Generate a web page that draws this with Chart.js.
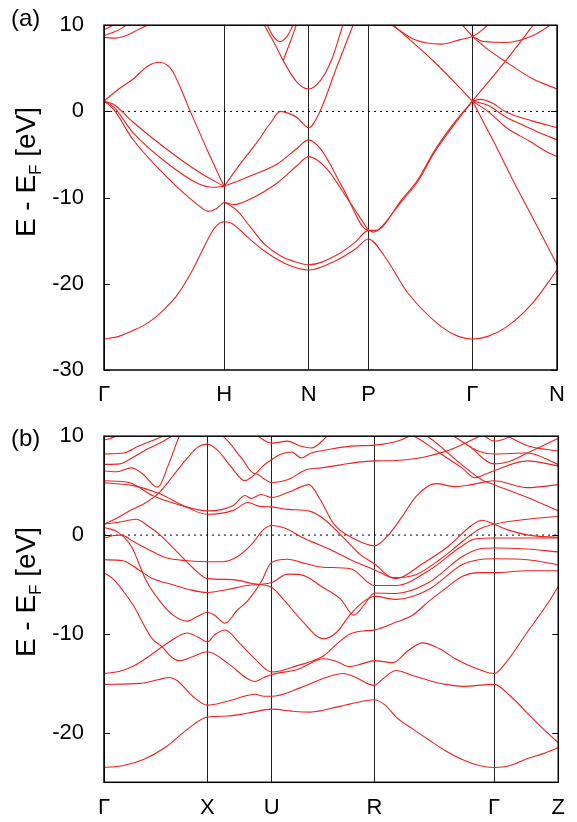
<!DOCTYPE html>
<html>
<head>
<meta charset="utf-8">
<script src="https://cdn.jsdelivr.net/npm/chart.js@4.4.1/dist/chart.umd.min.js"></script>
<style>
  html, body { margin: 0; padding: 0; background: #fff; }
  #wrap { position: relative; width: 577px; height: 822px; font-family: 'Liberation Sans', Arial, sans-serif; color: #000; }
  canvas { position: absolute; left: 0; }
  .panel-label { position: absolute; font-size: 24px; line-height: 1; }
  .axis-title { position: absolute; font-size: 28px; white-space: nowrap; line-height: 1; transform: translate(-50%, -50%) rotate(-90deg); }
  .axis-title sub { font-size: 17px; vertical-align: -6px; }
</style>
</head>
<body>
<div id="wrap">
  <canvas id="chart-a" width="577" height="411" style="top:0"></canvas>
  <canvas id="chart-b" width="577" height="411" style="top:411px"></canvas>
  <div class="panel-label" style="left:11px;top:6px">(a)</div>
  <div class="panel-label" style="left:11px;top:426px">(b)</div>
  <div class="axis-title" style="left:28px;top:172px">E - E<sub>F</sub> [eV]</div>
  <div class="axis-title" style="left:28px;top:592px">E - E<sub>F</sub> [eV]</div>
</div>
<script>
// path coordinate k runs along the plotted path, energies in eV relative to E_F
const kTicksA = [0, 122, 208, 268.7, 374.3, 460.3];
const kLabelsA = ['Γ', 'H', 'N', 'P', 'Γ', 'N'];
const eTicksA = [10, 0, -10, -20, -30];

const kTicksB = [0, 104.7, 170, 274, 395.3, 460.3];
const kLabelsB = ['Γ', 'X', 'U', 'R', 'Γ', 'Z'];
const eTicksB = [10, 0, -10, -20];

// panel (a) bands, [k, E]
const aLow = [[0,-26.4],[15,-26.1],[30,-25.4],[45,-24.5],[60,-23.1],[75,-21.2],[90,-18.4],[100,-16.1],[108,-14.3],[115,-13.2],[122,-12.8],[130,-13.0],[145,-14.5],[163,-16.2],[185,-17.7],[208,-18.4],[236,-17.3],[255,-16.0],[268.7,-14.8],[285,-16.8],[309,-21.1],[343,-25.0],[360,-26.1],[374.3,-26.4],[390,-26.1],[409,-25.0],[435,-22.3],[460.3,-18.4]];
const aSecond = [[122,-10.5],[128,-10.9],[136,-11.6],[150,-13.6],[163,-15.4],[180,-16.8],[196,-17.5],[208,-17.8],[236,-16.7],[255,-15.2],[268.7,-13.8],[274,-14.0],[280,-13.6],[302.7,-10.4],[319,-8.1],[336,-4.7],[356,-1.5],[374.3,1.2]];
const aG1 = [[0,1.2],[10,0.8],[29,-1.2],[62.7,-4.3],[96,-7.0],[122,-8.7]];
const aG2 = [[0,1.2],[10,0.5],[29,-2.4],[63,-5.9],[96,-8.4],[110,-8.8],[122,-8.7]];
const aG3 = [[0,1.2],[10,0.2],[29,-3.2],[63,-7.5],[96,-10.9],[106,-11.6],[114,-11.3],[122,-10.5]];
const aHump = [[0,1.2],[15,2.6],[29,3.7],[45,5.3],[56,5.7],[64,5.4],[70,4.6],[87.7,0],[105,-4.5],[122,-8.7]];
const aB1 = [[122,-8.7],[139,-6.0],[156,-3.5],[170,-1.2],[179,0],[187,-0.2],[196,-0.7],[208,-1.9],[219,-0.1],[236,5.0],[253,10],[257,11.2]];
const aB2 = [[122,-8.7],[146,-7.6],[176,-6.1],[196,-4.3],[208,-3.3],[221,-4.5],[242.7,-8.9],[268.7,-13.8],[276,-13.8],[302.7,-10.2],[319,-7.9],[336,-4.5],[356,-1.3],[374.3,1.2]];
const aB3 = [[122,-10.5],[132,-10.8],[146,-10.3],[176,-8.3],[196,-6.3],[208,-5.25],[226,-6.6],[246,-9.9],[268.7,-13.8]];
const aTop1 = [[0,8.6],[11,8.5],[20,8.7],[35,9.5],[49,10.3]];
const aTop2 = [[0,8.8],[14,9.4],[26,10.2]];
const aTop3 = [[0,9.5],[6,9.8],[13,10.3]];
const aN1 = [[162,10.2],[175,7.5],[182,5.9],[196,3.4],[208,2.6],[220,3.6],[232,6.2],[242.7,10],[246,11]];
const aN2 = [[182,5.9],[189,8.0],[196,10.2]];
const aN3 = [[165,10.2],[172,8.7],[179,8.1],[186,8.7],[193,10.2]];
const aP1 = [[294,10],[336,5.7],[374.3,1.2]];
const aP2 = [[292.7,10],[316,8.3],[342.7,7.8],[361,8.3],[374.3,8.7],[386,9.6],[391,10.2]];
const aP3 = [[362.7,10.2],[374.3,8.7]];
const aR1 = [[374.3,8.7],[386,8.1],[409,8.0],[436,8.8],[456,10.2]];
const aR2 = [[374.3,8.7],[390,7.2],[407.7,5.8],[436,3.75],[460.3,2.6]];
const aR3 = [[374.3,1.2],[407.7,5.8],[436,10]];
const aR4 = [[374.3,1.2],[382.7,1.4],[394,1.0],[409,-0.1],[435,-1.1],[460.3,-1.9]];
const aR5 = [[374.3,1.2],[390,0.7],[409,-0.7],[426,-1.6],[445,-2.6],[460.3,-3.3]];
const aR6 = [[374.3,1.2],[390,0.0],[409,-1.9],[433,-3.5],[447,-4.5],[460.3,-5.25]];
const aR7 = [[374.3,1.2],[395,-3.3],[416,-8.1],[439,-13.1],[460.3,-17.8]];

// panel (b) bands, [k, E]
const b1 = [[0,-23.5],[20,-23.3],[40,-22.7],[63,-21.4],[85,-19.6],[104.7,-18.4],[125,-18.3],[146,-18.0],[170,-17.6],[190,-17.8],[209,-17.9],[240,-17.3],[274,-16.65],[285,-17.2],[296,-18.4],[312.7,-19.6],[329,-20.7],[346,-21.8],[363,-22.7],[380,-23.3],[395.3,-23.5],[412,-23.3],[429,-22.6],[445,-22.1],[460.3,-21.5]];
const b2 = [[0,-15.1],[36,-15.0],[56,-14.6],[66,-14.4],[74,-14.7],[90,-16.3],[104.7,-17.2],[125,-16.8],[146,-16.2],[152.7,-16.1],[162,-16.3],[170,-16.3],[200,-15.4],[225,-14.4],[242.7,-14.0],[255,-14.4],[274,-15.2],[283,-14.5],[296,-13.7],[312.7,-14.2],[329,-14.7],[346,-15.1],[363,-15.3],[395.3,-15.1],[412,-16.3],[429,-18.0],[445,-19.6],[460.3,-21.0]];
const b3 = [[0,-14.0],[15,-13.8],[29,-13.3],[45,-12.3],[59,-11.3],[74,-10.3],[84.3,-9.9],[95,-10.3],[104.7,-10.8],[112,-10.1],[122.7,-9.6],[137,-10.9],[152.7,-12.5],[170,-13.85],[196,-13.2],[222.7,-12.2],[236,-11.0],[249.3,-10.0],[262,-9.7],[274,-9.6],[296,-8.8],[312.7,-8.1],[329,-6.7],[346,-5.4],[362.7,-4.2],[380,-3.8],[395.3,-3.8],[429,-3.6],[460.3,-3.6]];
const b4 = [[0,-3.8],[10,-4.5],[19,-5.6],[29,-7.0],[49,-10.5],[59,-11.3],[68,-12.3],[76,-12.7],[90,-12.3],[104.7,-11.8],[126,-13.0],[145,-14.5],[152.7,-14.8],[162,-14.4],[170,-14.1],[196,-13.6],[222.7,-12.5],[236,-12.8],[249,-13.3],[262,-13.0],[274,-12.7],[292.7,-12.9],[308,-11.7],[322.7,-10.9],[340,-11.5],[356,-12.5],[380,-13.6],[395.3,-14.0],[408,-12.8],[429,-9.8],[449,-7.0],[460.3,-5.2]];
const b5 = [[0,0.77],[14,0.3],[28,-1.2],[42.7,-4.6],[56,-6.6],[70,-8.1],[84.3,-8.7],[95,-8.2],[104.7,-7.8],[112,-8.1],[122.7,-8.9],[135,-7.6],[146,-6.6],[160,-4.6],[166,-3.3],[170,-2.75],[186,-2.45],[205,-2.9],[222,-3.25],[250,-3.4],[274,-5.1],[296,-5.1],[329,-3.6],[362.7,-1.1],[376,-0.4],[395.3,-0.3],[430,-0.3],[460.3,-0.3]];
const b6 = [[0,-2.5],[19,-2.6],[35,-3.5],[49,-4.4],[69,-5.0],[86,-5.5],[104.7,-5.8],[125,-5.5],[145,-5.1],[170,-4.8],[186,-3.95],[199,-4.0],[222,-5.3],[240,-6.5],[253,-8.1],[264,-7.0],[274,-5.85],[296,-5.9],[329,-4.8],[362.7,-2.2],[380,-1.4],[395.3,-1.3],[429,-1.4],[460.3,-1.7]];
const b7 = [[0,1.1],[15,1.3],[32.7,1.6],[45,0.9],[56,0.1],[76,-1.9],[90,-3.3],[104.7,-4.4],[130,-4.5],[150,-4.9],[170,-5.3],[182.7,-6.6],[200,-8.6],[222.7,-10.5],[236,-9.8],[249,-8.1],[262,-6.8],[274,-6.2],[296,-6.5],[329,-5.5],[362.7,-3.0],[380,-2.5],[395.3,-2.4],[429,-2.5],[460.3,-3.0]];
const b8 = [[0,-0.3],[10,-0.05],[17.7,0.0],[29,-0.6],[46,-1.5],[62.7,-2.3],[85,-2.6],[104.7,-2.7],[120,-2.7],[135,-2.2],[150,-0.9],[162,0.6],[170,0.97],[186,0.6],[200,-0.2],[230,-1.5],[252,-2.6],[274,-3.5],[296,-4.4],[322.7,-2.9],[349.3,-1.1],[372.7,1.0],[383,1.5],[395.3,1.1],[410,0.5],[430,0.0],[460.3,-0.25]];
const b9 = [[0,1.1],[13,1.7],[26,2.45],[41,3.2],[56,4.3],[70,6.0],[82,7.5],[95,8.9],[104.7,9.2],[115,8.6],[128,7.0],[142.7,5.5],[150,5.9],[154,6.2],[162,5.7],[170,5.3],[186,5.6],[205,6.6],[220,6.8],[240,7.1],[260,7.4],[274,7.5],[296,7.55],[316,7.75],[329,8.0],[350,8.6],[370,9.5],[385,10.2]];
const b10 = [[0,5.5],[26,5.3],[49,4.0],[75,3.1],[104.7,2.45],[131,3.0],[143,4.0],[149,3.7],[159,4.1],[170,3.8],[186,4.3],[203,5.0],[207.7,5.1],[219,3.6],[233,1.1],[256,-0.5],[274,-1.08],[286,-0.24],[303,2.0],[316,3.9],[336,5.2],[356,4.9],[372.7,5.1],[395.3,5.5],[429,4.8],[460.3,5.1]];
const b11 = [[0,5.3],[30,5.0],[56,4.2],[80,3.0],[104.7,2.1],[131,2.5],[146,3.3],[158,2.9],[170,2.85],[186,2.6],[209,2.4],[223,1.6],[246,-0.6],[260,-2.0],[274,-2.9],[292.7,-4.3],[316,-4.0],[340,-2.5],[365,-0.5],[380,0.6],[395.3,1.1],[429,1.6],[460.3,1.9]];
const bTop1 = [[0,9.6],[10,9.9],[18,10.5]];
const bTop2 = [[0,8.2],[20,8.3],[35,9.0],[55,9.8],[72,10.5]];
const bTop3 = [[0,7.15],[16,7.2],[30,7.9],[46,8.8],[62,9.6],[76,10.5]];
const bTop4 = [[0,6.5],[13,6.4],[27.7,6.8],[39,6.2],[54.3,4.85],[66,7.3],[76,9.9],[80,10.5]];
const bTop5 = [[112,10.5],[122.7,9.8],[140,7.7],[152.7,6.2],[160,6.9],[170,7.65],[180,8.2],[190,8.4],[200,7.8],[210,8.3],[225,8.6],[250,9.0],[274,9.1],[300,9.6],[320,10.5]];
const bTop6 = [[150,10.5],[162,9.6],[170,9.3],[186,9.5],[199,9.0],[210,8.8],[223,9.7],[230,10.5]];
const bTop7 = [[300,10.5],[316,9.9],[340,8.3],[362.7,6.8],[376,5.8],[385,6.1],[395.3,6.5],[429,7.5],[460.3,7.0]];
const bTop8 = [[315,10.5],[329,9.9],[345,8.6],[362.7,7.1],[382.7,5.6],[395.3,5.1],[429,3.8],[460.3,2.45]];
const bTop9 = [[345,10.5],[356,9.9],[379,8.5],[395.3,8.2],[429,8.3],[460.3,7.15]];
const bTop10 = [[370,9.0],[395.3,7.2],[412,7.5],[429,8.3],[460.3,9.8]];
const bTop11 = [[380,10.5],[395.3,9.5],[410,9.9],[420,10.5]];
const bTop12 = [[400,10.5],[430,9.0],[460.3,8.5]];

const bandsA = [aLow, aSecond, aG1, aG2, aG3, aHump, aB1, aB2, aB3, aTop1, aTop2, aTop3, aN1, aN2, aN3,
  aP1, aP2, aP3, aR1, aR2, aR3, aR4, aR5, aR6, aR7];
const bandsB = [b1, b2, b3, b4, b5, b6, b7, b8, b9, b10, b11, bTop1, bTop2, bTop3, bTop4, bTop5, bTop6,
  bTop7, bTop8, bTop9, bTop10, bTop11, bTop12];

const FONT = "'Liberation Sans', Arial, sans-serif";
const BAND_COLOR = 'rgb(236, 34, 34)';

const framePlugin = {
  id: 'frame',
  afterDatasetsDraw(chart) {
    const { ctx, chartArea: area, scales } = chart;
    ctx.save();
    ctx.strokeStyle = '#000';
    ctx.lineWidth = 1;
    scales.y.ticks.forEach((tick) => {
      const y = Math.round(scales.y.getPixelForValue(tick.value)) + 0.5;
      ctx.beginPath();
      ctx.moveTo(area.left, y);
      ctx.lineTo(area.left + 6, y);
      ctx.moveTo(area.right, y);
      ctx.lineTo(area.right - 6, y);
      ctx.stroke();
    });
    ctx.lineWidth = 1.5;
    ctx.strokeRect(area.left, area.top, area.right - area.left, area.bottom - area.top);
    ctx.restore();
  },
};

function toPoints(band) {
  return band.map(([k, e]) => ({ x: k, y: e }));
}

function createBandChart(canvasId, bands, kTicks, kLabels, eTicks, eMin, padTop, axisHeight) {
  const kMax = kTicks[kTicks.length - 1];
  const datasets = bands.map((band) => ({
    data: toPoints(band),
    borderColor: BAND_COLOR,
    borderWidth: 1.1,
    cubicInterpolationMode: 'monotone',
    pointRadius: 0,
  }));

  datasets.push({
    data: [{ x: 0, y: 0 }, { x: kMax, y: 0 }],
    borderColor: '#000',
    borderWidth: 1,
    borderDash: [2, 4],
    pointRadius: 0,
  });

  return new Chart(document.getElementById(canvasId), {
    type: 'line',
    data: { datasets },
    options: {
      responsive: false,
      animation: false,
      devicePixelRatio: 1,
      layout: { padding: { top: padTop, right: 577 - 564.3, left: 0, bottom: 0 } },
      plugins: { legend: { display: false }, tooltip: { enabled: false } },
      scales: {
        x: {
          type: 'linear',
          min: 0,
          max: kMax,
          afterBuildTicks: (scale) => { scale.ticks = kTicks.map((value) => ({ value })); },
          afterFit: (scale) => { scale.height = axisHeight; },
          ticks: {
            autoSkip: false,
            maxRotation: 0,
            padding: 12,
            color: '#000',
            font: { family: FONT, size: 22 },
            callback: (value, index) => kLabels[index],
          },
          grid: { color: '#222', lineWidth: 1, drawTicks: false },
          border: { display: false },
        },
        y: {
          min: eMin,
          max: 10,
          afterBuildTicks: (scale) => { scale.ticks = eTicks.map((value) => ({ value })); },
          afterFit: (scale) => { scale.width = 104; },
          ticks: {
            padding: 12,
            color: '#000',
            font: { family: FONT, size: 22 },
          },
          grid: { display: false },
          border: { display: false },
        },
      },
    },
    plugins: [framePlugin],
  });
}

createBandChart('chart-a', bandsA, kTicksA, kLabelsA, eTicksA, -30, 22.3, 41);
createBandChart('chart-b', bandsB, kTicksB, kLabelsB, eTicksB, -25, 23.7, 39.7);
</script>
</body>
</html>
